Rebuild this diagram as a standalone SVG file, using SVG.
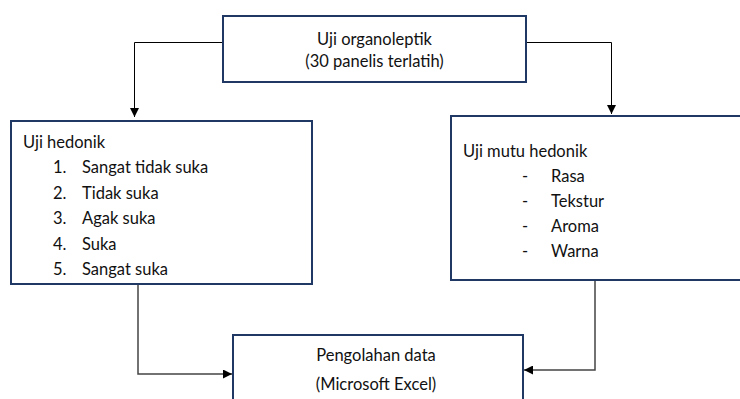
<svg xmlns="http://www.w3.org/2000/svg" width="740" height="399" viewBox="0 0 740 399">
<style>
.box{fill:#fff;stroke:#1f3864;stroke-width:2}
.t{font-family:Lato,"Liberation Sans",sans-serif;font-size:16.5px;fill:#111}
.c{fill:none;stroke:#000;stroke-width:1}
.g{fill:none;stroke:#444;stroke-width:1.5}
</style>
<defs>
<marker id="ah" viewBox="0 0 10 10" refX="10" refY="5" markerWidth="10" markerHeight="9" markerUnits="userSpaceOnUse" orient="auto">
<path d="M0,0 L10,5 L0,10 z" fill="#000"/>
</marker>
</defs>
<rect width="740" height="399" fill="#fff"/>
<g id="connectors">
<path class="c" d="M223,42.5 H134.5 V117" marker-end="url(#ah)"/>
<path class="c" d="M526,42.5 H611.5 V114" marker-end="url(#ah)"/>
<path class="g" d="M138,284 V374 H232" marker-end="url(#ah)"/>
<path class="g" d="M595,280 V370 H524" marker-end="url(#ah)"/>
</g>
<g id="n-organoleptik">
<rect class="box" x="223" y="16" width="303" height="66"/>
<text class="t" x="374.5" y="45" text-anchor="middle">Uji organoleptik</text>
<text class="t" x="374.5" y="67" text-anchor="middle">(30 panelis terlatih)</text>
</g>
<g id="n-hedonik">
<rect class="box" x="11" y="121" width="301" height="163"/>
<text class="t" x="23" y="148">Uji hedonik</text>
<text class="t" x="53" y="173">1.</text><text class="t" x="82" y="173">Sangat tidak suka</text>
<text class="t" x="53" y="198.5">2.</text><text class="t" x="82" y="198.5">Tidak suka</text>
<text class="t" x="53" y="224">3.</text><text class="t" x="82" y="224">Agak suka</text>
<text class="t" x="53" y="249.5">4.</text><text class="t" x="82" y="249.5">Suka</text>
<text class="t" x="53" y="275">5.</text><text class="t" x="82" y="275">Sangat suka</text>
</g>
<g id="n-mutu">
<rect class="box" x="451" y="116" width="300" height="164"/>
<text class="t" x="463" y="157">Uji mutu hedonik</text>
<text class="t" x="522" y="182">-</text><text class="t" x="551" y="182">Rasa</text>
<text class="t" x="522" y="207">-</text><text class="t" x="551" y="207">Tekstur</text>
<text class="t" x="522" y="232">-</text><text class="t" x="551" y="232">Aroma</text>
<text class="t" x="522" y="257">-</text><text class="t" x="551" y="257">Warna</text>
</g>
<g id="n-pengolahan">
<rect class="box" x="233" y="335" width="290" height="80"/>
<text class="t" x="376" y="361" text-anchor="middle">Pengolahan data</text>
<text class="t" x="376" y="390" text-anchor="middle">(Microsoft Excel)</text>
</g>
</svg>
